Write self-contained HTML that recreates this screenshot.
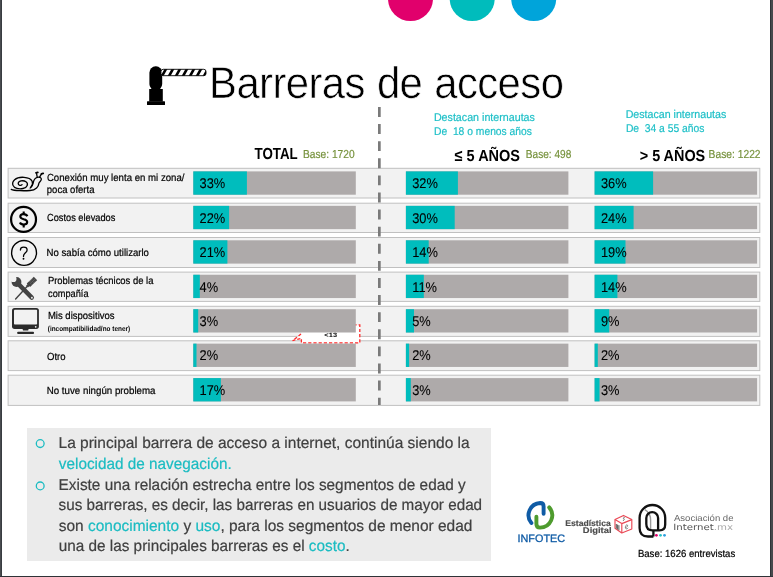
<!DOCTYPE html>
<html lang="es"><head><meta charset="utf-8"><title>Barreras de acceso</title>
<style>
html,body{margin:0;padding:0;background:#fff;}
body{width:773px;height:577px;position:relative;overflow:hidden;font-family:"Liberation Sans",sans-serif;text-rendering:geometricPrecision;}
.t{position:absolute;left:0;white-space:nowrap;margin:0;padding:0;}
.x{transform-origin:0 0;}
.frame{position:absolute;}
.box{position:absolute;left:27px;top:428px;width:464px;height:133px;background:#ebebeb;}
svg{position:absolute;overflow:visible;}
</style></head><body>
<div class="frame" style="left:0;top:0;width:2px;height:577px;background:linear-gradient(90deg,#494c4f 0 1px,#383c40 1px 2px)"></div>
<div class="frame" style="left:770px;top:0;width:3px;height:577px;background:linear-gradient(90deg,#2f3337 0 1px,#46494c 1px 3px)"></div>
<div class="frame" style="left:0;top:576px;width:773px;height:1px;background:#2f3337"></div>
<svg width="773" height="30" style="left:0;top:0" viewBox="0 0 773 30">
<circle cx="410.5" cy="-1.4" r="22.5" fill="#e1006c"/>
<circle cx="472.2" cy="-1.4" r="22.5" fill="#00bcbc"/>
<circle cx="533.7" cy="-1.4" r="22.5" fill="#00a4da"/>
</svg>
<svg width="773" height="577" style="left:0;top:0;pointer-events:none" viewBox="0 0 773 577">
<!-- barrier icon -->
<g fill="#000">
<rect x="149.4" y="66.3" width="12.8" height="24" rx="6.2" ry="6.4"/>
<rect x="149.2" y="89" width="13.6" height="12.6"/>
<rect x="147" y="101.2" width="18" height="3.7" rx="0.5"/>
</g>
<g>
<clipPath id="armclip"><rect x="161" y="69.3" width="45" height="6.4" rx="2.2"/></clipPath>
<rect x="161" y="69.3" width="45" height="6.4" rx="2.2" fill="#fff" stroke="#000" stroke-width="0.9"/>
<g clip-path="url(#armclip)" stroke="#000" stroke-width="2.6">
<path d="M161.5 77 L166.5 68 M168.5 77 L173.5 68 M175.5 77 L180.5 68 M182.5 77 L187.5 68 M189.5 77 L194.5 68 M196.5 77 L201.5 68 M203.5 77 L208.5 68"/>
</g>
</g>
</svg>
<div class="box"></div>

<svg width="773" height="577" style="left:0;top:0" viewBox="0 0 773 577">
<rect x="8.1" y="168.3" width="751.7" height="29.7" fill="#f2f2f2" stroke="#c0c0c0" stroke-width="1"/>
<rect x="8.1" y="203.2" width="751.7" height="29.3" fill="#f2f2f2" stroke="#c0c0c0" stroke-width="1"/>
<rect x="8.1" y="237.5" width="751.7" height="30" fill="#f2f2f2" stroke="#c0c0c0" stroke-width="1"/>
<rect x="8.1" y="272.1" width="751.7" height="29.3" fill="#f2f2f2" stroke="#c0c0c0" stroke-width="1"/>
<rect x="8.1" y="306.3" width="751.7" height="30.1" fill="#f2f2f2" stroke="#c0c0c0" stroke-width="1"/>
<rect x="8.1" y="340.8" width="751.7" height="29.8" fill="#f2f2f2" stroke="#c0c0c0" stroke-width="1"/>
<rect x="8.1" y="375.2" width="751.7" height="30.2" fill="#f2f2f2" stroke="#c0c0c0" stroke-width="1"/>
</svg>
<svg width="773" height="577" style="left:0;top:0" viewBox="0 0 773 577">
<path d="M301.4 324.9 H359.8 V342.9 H301.4 V338.4 L292.6 340.7 L301.4 333.6 Z" fill="#fff" stroke="#ff2a2a" stroke-width="1.3" stroke-dasharray="3.2 2"/>
</svg>

<svg width="773" height="577" style="left:0;top:0" viewBox="0 0 773 577">
<rect x="193.3" y="171.40" width="162.5" height="23.3" fill="#aeaaaa"/><rect x="193.3" y="171.40" width="53.6" height="23.3" fill="#00bdbd"/>
<rect x="405.9" y="171.40" width="162.5" height="23.3" fill="#aeaaaa"/><rect x="405.9" y="171.40" width="52.0" height="23.3" fill="#00bdbd"/>
<rect x="594.6" y="171.40" width="162.5" height="23.3" fill="#aeaaaa"/><rect x="594.6" y="171.40" width="58.5" height="23.3" fill="#00bdbd"/>
<rect x="193.3" y="205.85" width="162.5" height="23.3" fill="#aeaaaa"/><rect x="193.3" y="205.85" width="35.8" height="23.3" fill="#00bdbd"/>
<rect x="405.9" y="205.85" width="162.5" height="23.3" fill="#aeaaaa"/><rect x="405.9" y="205.85" width="48.8" height="23.3" fill="#00bdbd"/>
<rect x="594.6" y="205.85" width="162.5" height="23.3" fill="#aeaaaa"/><rect x="594.6" y="205.85" width="39.0" height="23.3" fill="#00bdbd"/>
<rect x="193.3" y="240.30" width="162.5" height="23.3" fill="#aeaaaa"/><rect x="193.3" y="240.30" width="34.1" height="23.3" fill="#00bdbd"/>
<rect x="405.9" y="240.30" width="162.5" height="23.3" fill="#aeaaaa"/><rect x="405.9" y="240.30" width="22.8" height="23.3" fill="#00bdbd"/>
<rect x="594.6" y="240.30" width="162.5" height="23.3" fill="#aeaaaa"/><rect x="594.6" y="240.30" width="30.9" height="23.3" fill="#00bdbd"/>
<rect x="193.3" y="274.75" width="162.5" height="23.3" fill="#aeaaaa"/><rect x="193.3" y="274.75" width="6.5" height="23.3" fill="#00bdbd"/>
<rect x="405.9" y="274.75" width="162.5" height="23.3" fill="#aeaaaa"/><rect x="405.9" y="274.75" width="17.9" height="23.3" fill="#00bdbd"/>
<rect x="594.6" y="274.75" width="162.5" height="23.3" fill="#aeaaaa"/><rect x="594.6" y="274.75" width="22.8" height="23.3" fill="#00bdbd"/>
<rect x="193.3" y="309.20" width="162.5" height="23.3" fill="#aeaaaa"/><rect x="193.3" y="309.20" width="4.9" height="23.3" fill="#00bdbd"/>
<rect x="405.9" y="309.20" width="162.5" height="23.3" fill="#aeaaaa"/><rect x="405.9" y="309.20" width="8.1" height="23.3" fill="#00bdbd"/>
<rect x="594.6" y="309.20" width="162.5" height="23.3" fill="#aeaaaa"/><rect x="594.6" y="309.20" width="14.6" height="23.3" fill="#00bdbd"/>
<rect x="193.3" y="343.65" width="162.5" height="23.3" fill="#aeaaaa"/><rect x="193.3" y="343.65" width="3.2" height="23.3" fill="#00bdbd"/>
<rect x="405.9" y="343.65" width="162.5" height="23.3" fill="#aeaaaa"/><rect x="405.9" y="343.65" width="3.2" height="23.3" fill="#00bdbd"/>
<rect x="594.6" y="343.65" width="162.5" height="23.3" fill="#aeaaaa"/><rect x="594.6" y="343.65" width="3.2" height="23.3" fill="#00bdbd"/>
<rect x="193.3" y="378.10" width="162.5" height="23.3" fill="#aeaaaa"/><rect x="193.3" y="378.10" width="27.6" height="23.3" fill="#00bdbd"/>
<rect x="405.9" y="378.10" width="162.5" height="23.3" fill="#aeaaaa"/><rect x="405.9" y="378.10" width="4.9" height="23.3" fill="#00bdbd"/>
<rect x="594.6" y="378.10" width="162.5" height="23.3" fill="#aeaaaa"/><rect x="594.6" y="378.10" width="4.9" height="23.3" fill="#00bdbd"/>
</svg>
<svg width="773" height="577" style="left:0;top:0" viewBox="0 0 773 577">
<line x1="379.35" y1="107" x2="379.35" y2="405" stroke="#7a7a7a" stroke-width="2.7" stroke-dasharray="9.9 7.2"/>
</svg>

<svg width="773" height="577" style="left:0;top:0" viewBox="0 0 773 577" fill="none">
<!-- snail -->
<g stroke="#000" stroke-width="1.3" stroke-linecap="round" stroke-linejoin="round">
<path d="M30.8 187.2 C34 183.8 33.4 178 24 177.3 C15 176.7 11.6 181.6 13 185.4 C14.1 188.4 19 189.4 23 188.5 C27.6 187.4 28.6 183.6 26 181.8 C23 179.8 18.2 181 18.2 183.6 C18.2 185.4 21 186 22 184.6"/>
<path d="M11.3 189.4 C14 190.9 25 190.9 30 190.5 C36 190 38.6 186.4 38.8 183.6 C38.9 182 41 181.4 41.3 179.5 C41.6 177.6 39.4 176.9 37.4 177.3 C34.8 177.8 33.7 180 33.2 183 C32.7 185.6 31.6 187 30.2 188"/>
<path d="M37.2 177.2 L36.6 173.6 M39.4 177.4 L41.4 174.2"/>
<path d="M36 172.8 L37.8 172.4 M41.4 173.9 L43.2 173.3" stroke-width="1.8"/>
</g>
<!-- dollar -->
<circle cx="23.55" cy="219.4" r="12.45" stroke="#000" stroke-width="2.2"/>
<g stroke="#000" stroke-width="2.1" stroke-linecap="butt">
<path d="M27.4 216.3 C26.6 214.6 25 214.1 23.6 214.1 C21.6 214.1 20.3 215.2 20.3 216.6 C20.3 218.3 21.8 218.8 23.7 219.3 C25.8 219.8 27.2 220.5 27.2 222.1 C27.2 223.7 25.7 224.6 23.8 224.6 C22 224.6 20.6 224 19.9 222.5"/>
<path d="M23.7 211.4 V214.4 M23.7 224.3 V227.5"/>
</g>
<!-- question -->
<circle cx="24.05" cy="252.9" r="12.45" stroke="#000" stroke-width="1.35"/>
<path d="M20.4 250 C20.4 248 22 247.2 23.7 247.2 C25.6 247.2 27.1 248.3 27.1 250 C27.1 251.6 26 252.3 25 253.2 C24 254.1 23.5 254.8 23.5 256.4" stroke="#000" stroke-width="1.3" stroke-linecap="round"/>
<circle cx="23.5" cy="258.8" r="0.95" fill="#000"/>
<!-- tools -->
<g stroke="#444" stroke-linecap="round">
<path d="M19 284.6 L31.8 297.6" stroke-width="4.4"/>
<circle cx="16.5" cy="282" r="4.9" fill="#444" stroke="none"/>
<circle cx="13.4" cy="278.9" r="3.1" fill="#f2f2f2" stroke="none"/>
<circle cx="31.9" cy="297.7" r="0.95" fill="#e8e8e8" stroke="none"/>
<path d="M35.5 278.4 L28.4 285.2" stroke-width="4.8" stroke-linecap="butt"/>
<path d="M28.8 284.8 L26.6 287 L15.6 298.9" stroke-width="1.4"/>
<path d="M28.6 285 L27 286.6" stroke-width="2.6" stroke-linecap="butt"/>
<path d="M29.3 281.9 L33.3 278 M30.6 283.3 L34.6 279.4 M32 284.6 L35.8 280.8" stroke="#bdbdbd" stroke-width="0.55" stroke-dasharray="0.8 0.7" stroke-linecap="butt"/>
</g>
<!-- monitor -->
<rect x="12" y="307.9" width="26.9" height="21" rx="2.6" fill="#2b2b2b"/>
<rect x="14" y="309.8" width="23.1" height="14.7" rx="0.8" fill="#f2f2f2"/>
<circle cx="35.7" cy="326.8" r="0.85" fill="#f2f2f2"/>
<path d="M22.4 328.6 H28.8 L28.2 330.6 H23 Z" fill="#2b2b2b"/>
<rect x="17.1" y="331.8" width="17" height="2.2" rx="1.1" fill="#2b2b2b"/>
</svg>

<div class="t x" id="t0" style="top:57.00px;font-size:44.3px;line-height:53.16px;color:#000;letter-spacing:-0.6px;transform:translateX(209.09px) scaleX(0.9439);-webkit-text-stroke:0.6px #fff;word-spacing:1px;">Barreras de acceso</div>
<div class="t x" id="t1" style="top:145.00px;font-size:16px;line-height:19.2px;color:#000;font-weight:700;transform:translateX(254.52px) scaleX(0.8344);">TOTAL</div>
<div class="t x" id="t2" style="top:148.00px;font-size:11.6px;line-height:13.92px;color:#76923c;transform:translateX(302.96px) scaleX(0.8801);-webkit-text-stroke:0.2px;">Base: 1720</div>
<div class="t x" id="t3" style="top:112.00px;font-size:11.3px;line-height:13.56px;color:#1fc0c8;transform:translateX(433.89px) scaleX(0.9460);-webkit-text-stroke:0.2px;">Destacan internautas</div>
<div class="t x" id="t4" style="top:126.00px;font-size:11.3px;line-height:13.56px;color:#1fc0c8;transform:translateX(433.99px) scaleX(0.9123);-webkit-text-stroke:0.2px;">De&nbsp; 18 o menos años</div>
<div class="t x" id="t5" style="top:147.00px;font-size:16px;line-height:19.2px;color:#000;font-weight:700;transform:translateX(454.60px) scaleX(0.9062);">≤ 5 AÑOS</div>
<div class="t x" id="t6" style="top:148.00px;font-size:11.6px;line-height:13.92px;color:#76923c;transform:translateX(525.87px) scaleX(0.8692);-webkit-text-stroke:0.2px;">Base: 498</div>
<div class="t x" id="t7" style="top:109.00px;font-size:11.3px;line-height:13.56px;color:#1fc0c8;transform:translateX(625.64px) scaleX(0.9425);-webkit-text-stroke:0.2px;">Destacan internautas</div>
<div class="t x" id="t8" style="top:123.00px;font-size:11.3px;line-height:13.56px;color:#1fc0c8;transform:translateX(625.89px) scaleX(0.9120);-webkit-text-stroke:0.2px;">De&nbsp; 34 a 55 años</div>
<div class="t x" id="t9" style="top:147.00px;font-size:16px;line-height:19.2px;color:#000;font-weight:700;transform:translateX(639.72px) scaleX(0.9002);">&gt; 5 AÑOS</div>
<div class="t x" id="t10" style="top:148.00px;font-size:11.6px;line-height:13.92px;color:#76923c;transform:translateX(708.60px) scaleX(0.8860);-webkit-text-stroke:0.2px;">Base: 1222</div>
<div class="t x" id="t11" style="top:173.00px;font-size:10.3px;line-height:12.36px;color:#000;transform:translateX(46.89px) scaleX(0.9352);-webkit-text-stroke:0.2px;">Conexión muy lenta en mi zona/</div>
<div class="t x" id="t12" style="top:185.00px;font-size:10.3px;line-height:12.36px;color:#000;transform:translateX(46.82px) scaleX(0.9241);-webkit-text-stroke:0.2px;">poca oferta</div>
<div class="t x" id="t13" style="top:213.00px;font-size:10.3px;line-height:12.36px;color:#000;transform:translateX(46.96px) scaleX(0.8986);-webkit-text-stroke:0.2px;">Costos elevados</div>
<div class="t x" id="t14" style="top:248.00px;font-size:10.3px;line-height:12.36px;color:#000;transform:translateX(46.62px) scaleX(0.9312);-webkit-text-stroke:0.2px;">No sabía cómo utilizarlo</div>
<div class="t x" id="t15" style="top:276.00px;font-size:10.3px;line-height:12.36px;color:#000;transform:translateX(47.91px) scaleX(0.9174);-webkit-text-stroke:0.2px;">Problemas técnicos de la</div>
<div class="t x" id="t16" style="top:289.00px;font-size:10.3px;line-height:12.36px;color:#000;transform:translateX(48.10px) scaleX(0.8937);-webkit-text-stroke:0.2px;">compañía</div>
<div class="t x" id="t17" style="top:311.00px;font-size:10.3px;line-height:12.36px;color:#000;transform:translateX(47.88px) scaleX(0.9249);-webkit-text-stroke:0.2px;">Mis dispositivos</div>
<div class="t x" id="t18" style="top:325.00px;font-size:7.2px;line-height:8.64px;color:#000;font-weight:700;transform:translateX(47.75px) scaleX(0.8927);">(incompatibilidad/no tener)</div>
<div class="t x" id="t19" style="top:352.00px;font-size:10.3px;line-height:12.36px;color:#000;transform:translateX(47.01px) scaleX(0.9290);-webkit-text-stroke:0.2px;">Otro</div>
<div class="t x" id="t20" style="top:386.00px;font-size:10.3px;line-height:12.36px;color:#000;transform:translateX(46.72px) scaleX(0.9457);-webkit-text-stroke:0.2px;">No tuve ningún problema</div>
<div class="t x" id="t21" style="top:332.00px;font-size:6.1px;line-height:7.32px;color:#000;font-weight:700;transform:translateX(324.37px) scaleX(1.2275);">&lt;13</div>
<div class="t x" id="t22" style="top:175.00px;font-size:14.1px;line-height:16.92px;color:#000;transform:translateX(199.60px) scaleX(0.9100);-webkit-text-stroke:0.1px;">33%</div>
<div class="t x" id="t23" style="top:175.00px;font-size:14.1px;line-height:16.92px;color:#000;transform:translateX(412.20px) scaleX(0.9100);-webkit-text-stroke:0.1px;">32%</div>
<div class="t x" id="t24" style="top:175.00px;font-size:14.1px;line-height:16.92px;color:#000;transform:translateX(600.90px) scaleX(0.9100);-webkit-text-stroke:0.1px;">36%</div>
<div class="t x" id="t25" style="top:210.00px;font-size:14.1px;line-height:16.92px;color:#000;transform:translateX(199.60px) scaleX(0.9100);-webkit-text-stroke:0.1px;">22%</div>
<div class="t x" id="t26" style="top:210.00px;font-size:14.1px;line-height:16.92px;color:#000;transform:translateX(412.20px) scaleX(0.9100);-webkit-text-stroke:0.1px;">30%</div>
<div class="t x" id="t27" style="top:210.00px;font-size:14.1px;line-height:16.92px;color:#000;transform:translateX(600.90px) scaleX(0.9100);-webkit-text-stroke:0.1px;">24%</div>
<div class="t x" id="t28" style="top:244.00px;font-size:14.1px;line-height:16.92px;color:#000;transform:translateX(199.60px) scaleX(0.9100);-webkit-text-stroke:0.1px;">21%</div>
<div class="t x" id="t29" style="top:244.00px;font-size:14.1px;line-height:16.92px;color:#000;transform:translateX(412.20px) scaleX(0.9100);-webkit-text-stroke:0.1px;">14%</div>
<div class="t x" id="t30" style="top:244.00px;font-size:14.1px;line-height:16.92px;color:#000;transform:translateX(600.90px) scaleX(0.9100);-webkit-text-stroke:0.1px;">19%</div>
<div class="t x" id="t31" style="top:279.00px;font-size:14.1px;line-height:16.92px;color:#000;transform:translateX(199.60px) scaleX(0.9100);-webkit-text-stroke:0.1px;">4%</div>
<div class="t x" id="t32" style="top:279.00px;font-size:14.1px;line-height:16.92px;color:#000;transform:translateX(412.20px) scaleX(0.9100);-webkit-text-stroke:0.1px;">11%</div>
<div class="t x" id="t33" style="top:279.00px;font-size:14.1px;line-height:16.92px;color:#000;transform:translateX(600.90px) scaleX(0.9100);-webkit-text-stroke:0.1px;">14%</div>
<div class="t x" id="t34" style="top:313.00px;font-size:14.1px;line-height:16.92px;color:#000;transform:translateX(199.60px) scaleX(0.9100);-webkit-text-stroke:0.1px;">3%</div>
<div class="t x" id="t35" style="top:313.00px;font-size:14.1px;line-height:16.92px;color:#000;transform:translateX(412.20px) scaleX(0.9100);-webkit-text-stroke:0.1px;">5%</div>
<div class="t x" id="t36" style="top:313.00px;font-size:14.1px;line-height:16.92px;color:#000;transform:translateX(600.90px) scaleX(0.9100);-webkit-text-stroke:0.1px;">9%</div>
<div class="t x" id="t37" style="top:347.00px;font-size:14.1px;line-height:16.92px;color:#000;transform:translateX(199.60px) scaleX(0.9100);-webkit-text-stroke:0.1px;">2%</div>
<div class="t x" id="t38" style="top:347.00px;font-size:14.1px;line-height:16.92px;color:#000;transform:translateX(412.20px) scaleX(0.9100);-webkit-text-stroke:0.1px;">2%</div>
<div class="t x" id="t39" style="top:347.00px;font-size:14.1px;line-height:16.92px;color:#000;transform:translateX(600.90px) scaleX(0.9100);-webkit-text-stroke:0.1px;">2%</div>
<div class="t x" id="t40" style="top:382.00px;font-size:14.1px;line-height:16.92px;color:#000;transform:translateX(199.60px) scaleX(0.9100);-webkit-text-stroke:0.1px;">17%</div>
<div class="t x" id="t41" style="top:382.00px;font-size:14.1px;line-height:16.92px;color:#000;transform:translateX(412.20px) scaleX(0.9100);-webkit-text-stroke:0.1px;">3%</div>
<div class="t x" id="t42" style="top:382.00px;font-size:14.1px;line-height:16.92px;color:#000;transform:translateX(600.90px) scaleX(0.9100);-webkit-text-stroke:0.1px;">3%</div>
<div class="t x" id="t43" style="top:435.00px;font-size:15.7px;line-height:18.84px;color:#404040;transform:translateX(58.52px) scaleX(0.9884);-webkit-text-stroke:0.2px;">La principal barrera de acceso a internet, continúa siendo la</div>
<div class="t x" id="t44" style="top:456.00px;font-size:15.7px;line-height:18.84px;color:#1bbcc2;transform:translateX(58.80px) scaleX(0.9764);-webkit-text-stroke:0.2px;">velocidad de navegación.</div>
<div class="t x" id="t45" style="top:477.00px;font-size:15.7px;line-height:18.84px;color:#404040;transform:translateX(58.58px) scaleX(0.9788);-webkit-text-stroke:0.2px;">Existe una relación estrecha entre los segmentos de edad y</div>
<div class="t x" id="t46" style="top:497.00px;font-size:15.7px;line-height:18.84px;color:#404040;transform:translateX(58.61px) scaleX(0.9713);-webkit-text-stroke:0.2px;">sus barreras, es decir, las barreras en usuarios de mayor edad</div>
<div class="t x" id="t47" style="top:518.00px;font-size:15.7px;line-height:18.84px;color:#404040;transform:translateX(58.72px) scaleX(0.9862);-webkit-text-stroke:0.2px;">son <span style="color:#1bbcc2">conocimiento</span> y <span style="color:#1bbcc2">uso</span>, para los segmentos de menor edad</div>
<div class="t x" id="t48" style="top:538.00px;font-size:15.7px;line-height:18.84px;color:#404040;transform:translateX(58.74px) scaleX(0.9756);-webkit-text-stroke:0.2px;">una de las principales barreras es el <span style="color:#1bbcc2">costo</span>.</div>
<div class="t x" id="t49" style="top:533.00px;font-size:10.8px;line-height:12.96px;color:#0f5ba5;transform:translateX(517.56px) scaleX(1.0015);-webkit-text-stroke:0.3px #0f5ba5;">INFOTEC</div>
<div class="t x" id="t50" style="top:519.00px;font-size:8.3px;line-height:9.96px;color:#4d4d4d;font-weight:700;transform:translateX(565.23px) scaleX(1.0381);-webkit-text-stroke:0.15px;">Estadística</div>
<div class="t x" id="t51" style="top:526.00px;font-size:8.3px;line-height:9.96px;color:#4d4d4d;font-weight:700;transform:translateX(582.87px) scaleX(1.1320);-webkit-text-stroke:0.15px;">Digital</div>
<div class="t x" id="t52" style="top:513.00px;font-size:8.8px;line-height:10.56px;color:#666;transform:translateX(673.91px) scaleX(1.0883); ">Asociación de</div>
<div class="t x" id="t53" style="top:523.00px;font-size:8.6px;line-height:10.32px;color:#555;font-family:'DejaVu Sans','Liberation Sans',sans-serif;transform:translateX(673.18px) scaleX(1.1876); ">Internet<span style="color:#aaa">.mx</span></div>
<div class="t x" id="t54" style="top:549.00px;font-size:10.3px;line-height:12.36px;color:#000;transform:translateX(637.90px) scaleX(0.9287);-webkit-text-stroke:0.2px;">Base: 1626 entrevistas</div>
<svg width="773" height="577" style="left:0;top:0" viewBox="0 0 773 577" fill="none">
<!-- bullets -->
<circle cx="40.2" cy="443.6" r="3.9" stroke="#1bbcc2" stroke-width="1.3"/>
<circle cx="40.2" cy="485.9" r="3.9" stroke="#1bbcc2" stroke-width="1.3"/>
<!-- infotec -->
<g stroke-width="3.9" stroke-linecap="round">
<path d="M531.4 523 A12.2 12.2 0 0 1 540.2 503 Q543.6 503 543.6 506.4 L543.6 513.8" stroke="#0f5ba5"/>
<path d="M549.2 507.4 A12.2 12.2 0 0 1 540 527.6 Q536.4 527.6 536.4 524 L536.4 516.8" stroke="#4e9b2e"/>
</g>
<!-- cube -->
<g stroke="#ea4855" stroke-width="1.15" stroke-linejoin="round">
<path d="M623.5 515.4 L631.8 519.6 L631.8 529 L621.8 533 L615 528.2 L615 519.6 Z"/>
<path d="M615 519.6 L621.8 523.6 L631.8 519.6 M621.8 523.6 L621.8 533"/>
</g>
<path d="M616.3 524 V528.6 M617.6 524.6 V529.4 M618.9 525.2 V530.2" stroke="#444" stroke-width="0.9"/>
<path d="M625.6 527.6 C627.6 527.2 628.2 525 627 524.8 C625.4 524.6 624.6 528.8 626.4 528.9 C627.2 528.9 627.8 528.4 628.2 527.8" stroke="#555" stroke-width="0.7"/>
<path d="M623.4 517.2 L624.4 517.6 L623.4 518.8 L624.2 519.6 L623.2 520.8" stroke="#444" stroke-width="0.8"/>
<!-- asociacion -->
<path d="M644.8 509.6 Q650.6 513 650.6 520 V529.5" stroke="#9a9a9a" stroke-width="1.4"/>
<path d="M653.4 536.5 H648 Q639.6 536.5 639.6 528 V517.8 A12.8 12.8 0 0 1 665.2 517.8 V524.5 Q665.2 530.4 659.4 530.4 H652.6 Q646.3 530.4 646.3 524 V518 A5.9 5.9 0 0 1 658.1 518 V530" stroke="#111" stroke-width="2.3" stroke-linejoin="round"/>
<path d="M653.4 531 V536.5" stroke="#111" stroke-width="2.3"/>
<circle cx="656.4" cy="535.3" r="1.4" fill="#e1006c"/>
<circle cx="660.5" cy="535.3" r="1.4" fill="#2cc3c6"/>
<circle cx="664.5" cy="535.3" r="1.4" fill="#2f9fe0"/>
</svg>

</body></html>
